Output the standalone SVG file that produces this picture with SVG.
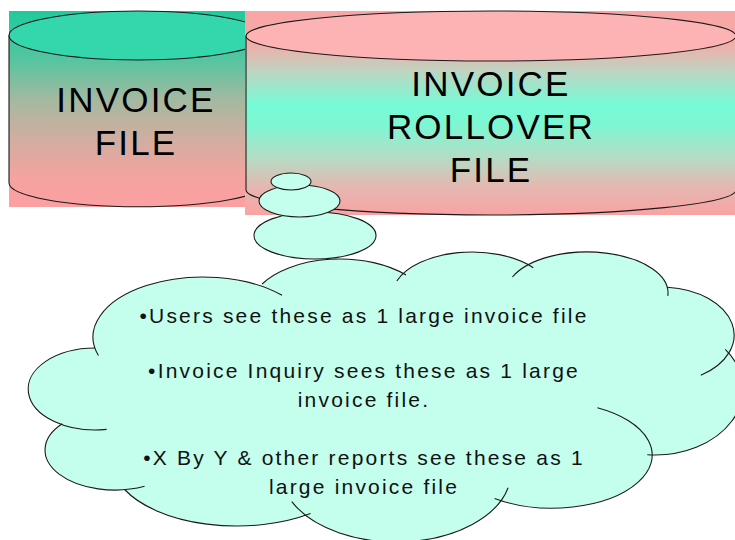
<svg xmlns="http://www.w3.org/2000/svg" width="735" height="540" viewBox="0 0 735 540">
  <defs>
    <linearGradient id="gradInvoice" gradientUnits="userSpaceOnUse" x1="0" y1="11" x2="0" y2="207">
      <stop offset="0" stop-color="#1ecb9c"/>
      <stop offset="0.25" stop-color="#55c5a0"/>
      <stop offset="0.45" stop-color="#a3b9a0"/>
      <stop offset="0.65" stop-color="#d0ae9f"/>
      <stop offset="0.85" stop-color="#f4a3a0"/>
      <stop offset="1" stop-color="#fca0a0"/>
    </linearGradient>
    <linearGradient id="gradRollover" gradientUnits="userSpaceOnUse" x1="0" y1="11" x2="0" y2="215">
      <stop offset="0" stop-color="#f9a5a5"/>
      <stop offset="0.16" stop-color="#f3aca8"/>
      <stop offset="0.30" stop-color="#bcd6c2"/>
      <stop offset="0.46" stop-color="#76fbd6"/>
      <stop offset="0.56" stop-color="#7ef6d3"/>
      <stop offset="0.72" stop-color="#b5dcc5"/>
      <stop offset="0.86" stop-color="#e4b8b0"/>
      <stop offset="1" stop-color="#f9a3a3"/>
    </linearGradient>
  </defs>
  <style>
    .edge { fill: none; stroke: #1a1a1a; stroke-width: 1.1; }
    .bubble { fill: #c4feec; stroke: #1a1a1a; stroke-width: 1.1; }
    .cloud-fill { fill: #c4feec; stroke: none; }
    .cyl-label { font-family: "Liberation Sans", Arial, sans-serif; font-size: 35px; letter-spacing: 2.2px; fill: #000; text-anchor: middle; }
    .note { font-family: "Liberation Sans", Arial, sans-serif; font-size: 21px; letter-spacing: 2.2px; fill: #111; text-anchor: middle; }
  </style>

  <!-- Invoice file: cylinder on a gradient panel -->
  <g id="invoice-file">
    <rect x="9" y="11" width="236" height="196" fill="url(#gradInvoice)"/>
    <path class="edge" d="M9,35.5 V182.7 A129,24 0 0 0 267,182.7 V35.5"/>
    <ellipse cx="138" cy="35.5" rx="129" ry="24.5" fill="#34d6ac" stroke="#1a1a1a" stroke-width="1.1"/>
    <text class="cyl-label" x="136" y="112">INVOICE</text>
    <text class="cyl-label" x="136" y="155">FILE</text>
  </g>

  <!-- Invoice rollover file: wider cylinder drawn over the first -->
  <g id="rollover-file">
    <rect x="245" y="11" width="490" height="204" fill="url(#gradRollover)"/>
    <path class="edge" d="M246,36 V190 A245,25 0 0 0 736,190 V36"/>
    <ellipse cx="491" cy="36" rx="245" ry="25" fill="#fdb3b3" stroke="#1a1a1a" stroke-width="1.1"/>
    <text class="cyl-label" x="491" y="96">INVOICE</text>
    <text class="cyl-label" x="491" y="139">ROLLOVER</text>
    <text class="cyl-label" x="491" y="182">FILE</text>
  </g>

  <!-- Thought-bubble trail leading to the callout -->
  <g id="callout-tail">
    <ellipse class="bubble" cx="315" cy="235.5" rx="61" ry="23.5"/>
    <ellipse class="bubble" cx="299.5" cy="201" rx="40.5" ry="16"/>
    <ellipse class="bubble" cx="291" cy="181.5" rx="20" ry="8.5"/>
  </g>

  <!-- Cloud callout: filled union of lobes, then each lobe's arc -->
  <g id="callout-cloud">
    <g class="cloud-fill">
      <ellipse cx="390" cy="400" rx="250" ry="110"/>
      <ellipse cx="95" cy="389" rx="67" ry="41"/>
      <ellipse cx="115" cy="450" rx="70" ry="40"/>
      <ellipse cx="237" cy="461" rx="125" ry="65"/>
      <ellipse cx="396" cy="472" rx="115" ry="70"/>
      <ellipse cx="552" cy="455" rx="100" ry="53"/>
      <ellipse cx="655" cy="389" rx="88" ry="66"/>
      <ellipse cx="661" cy="335" rx="73" ry="48"/>
      <ellipse cx="587" cy="293" rx="81" ry="41"/>
      <ellipse cx="472" cy="296" rx="80" ry="44"/>
      <ellipse cx="340" cy="309" rx="90" ry="50"/>
      <ellipse cx="203" cy="337" rx="110" ry="60"/>
    </g>
    <path class="edge" d="M106.6,429.4 A67,41 0 1 1 95,348"/>
    <path class="edge" d="M98.4,355.5 A110,60 0 0 1 282.1,295.3"/>
    <path class="edge" d="M262.1,284 A90,50 0 0 1 406,275"/>
    <path class="edge" d="M396.8,281 A80,44 0 0 1 533.3,267.7"/>
    <path class="edge" d="M512.4,277 A81,41 0 0 1 667.8,295.9"/>
    <path class="edge" d="M667.4,287.2 A73,48 0 0 1 700.8,375.3"/>
    <path class="edge" d="M725.3,349.3 A88,66 0 0 1 647.3,454.7"/>
    <path class="edge" d="M597.4,407.8 A100,53 0 1 1 494.6,498.4"/>
    <path class="edge" d="M508.1,487.7 A115,70 0 0 1 291.8,501.6"/>
    <path class="edge" d="M310.5,513.6 A125,65 0 0 1 124.6,489.5"/>
    <path class="edge" d="M144.6,486.3 A70,40 0 0 1 62.2,423.8"/>

    <text class="note" x="364" y="323">•Users see these as 1 large invoice file</text>
    <text class="note" x="364" y="378">•Invoice Inquiry sees these as 1 large</text>
    <text class="note" x="364" y="407">invoice file.</text>
    <text class="note" x="364" y="465">•X By Y &amp; other reports see these as 1</text>
    <text class="note" x="364" y="494">large invoice file</text>
  </g>
</svg>
